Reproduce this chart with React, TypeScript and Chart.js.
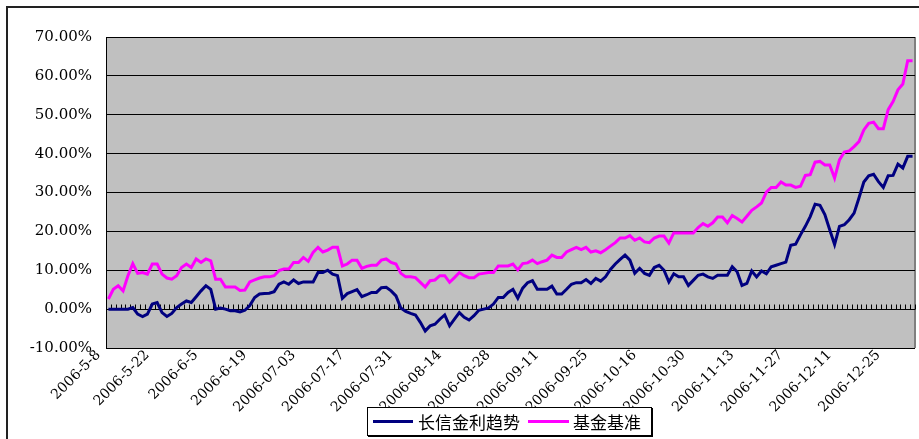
import { useEffect, useRef } from "react";
import { Chart, registerables } from "chart.js";

Chart.register(...registerables);

// one label every 10 trading days
const tickLabels = [
  "2006-5-8", "2006-5-22", "2006-6-5", "2006-6-19", "2006-07-03", "2006-07-17",
  "2006-07-31", "2006-08-14", "2006-08-28", "2006-09-11", "2006-09-25", "2006-10-16",
  "2006-10-30", "2006-11-13", "2006-11-27", "2006-12-11", "2006-12-25"
];
const labelStep = 10;

const seriesNames = ["长信金利趋势", "基金基准"];
const seriesColors = ["#000080", "#ff00ff"];

// 长信金利趋势, %
const fundReturn = [
  0, 0, 0, 0, 0, 0.4, -1.3, -1.9, -1.3, 1.3, 1.7, -0.9, -1.9, -1.1, 0.4, 1.3, 2.1, 1.7, 3.2, 4.7,
  6.0, 5.1, 0, 0.3, 0, -0.4, -0.4, -0.7, -0.3, 0.9, 3.0, 3.9, 4.0, 4.1, 4.5, 6.4, 7.0, 6.4, 7.5, 6.6,
  7.0, 7.0, 7.0, 9.4, 9.4, 10.0, 9.0, 8.6, 2.8, 4.0, 4.5, 5.0, 3.2, 3.7, 4.3, 4.3, 5.5, 5.6, 4.7, 3.4,
  0.3, -0.6, -1.1, -1.5, -3.4, -5.6, -4.3, -3.9, -2.6, -1.5, -4.3, -2.6, -0.9, -2.1, -2.8, -1.7, -0.3, 0, 0.3, 1.3,
  3.0, 3.0, 4.3, 5.1, 2.8, 5.4, 6.8, 7.3, 5.1, 5.1, 5.1, 5.9, 3.9, 3.9, 5.1, 6.4, 6.8, 6.8, 7.6, 6.6,
  7.9, 7.2, 8.3, 10.2, 11.6, 12.8, 13.9, 12.6, 9.2, 10.5, 9.2, 8.7, 10.7, 11.3, 10.0, 7.0, 9.1, 8.3, 8.3, 6.1,
  7.4, 8.7, 9.0, 8.3, 7.9, 8.7, 8.7, 8.7, 10.9, 9.6, 6.1, 6.6, 9.8, 8.3, 9.8, 9.1, 10.9, 11.3, 11.7, 12.1,
  16.4, 16.7, 19.1, 21.3, 23.8, 27.0, 26.7, 24.3, 20.4, 16.6, 21.3, 21.7, 23.0, 24.7, 28.6, 32.7, 34.3, 34.7, 32.8, 31.3,
  34.3, 34.4, 37.3, 36.3, 39.3, 39.3
];

// 基金基准, %
const benchmarkReturn = [
  2.6, 5.1, 6.0, 4.7, 8.6, 11.7, 9.2, 9.4, 9.0, 11.6, 11.6, 9.0, 8.0, 7.7, 8.6, 10.7, 11.6, 10.7, 12.9, 12.0,
  12.9, 12.4, 7.7, 7.7, 5.7, 5.7, 5.7, 4.8, 4.9, 7.0, 7.5, 8.0, 8.3, 8.3, 8.6, 9.9, 10.3, 10.3, 12.0, 12.0,
  13.3, 12.3, 14.6, 15.9, 14.7, 15.2, 15.9, 15.9, 11.1, 11.6, 12.6, 12.6, 10.5, 11.0, 11.3, 11.3, 12.6, 12.9, 12.0, 11.6,
  9.2, 8.3, 8.3, 8.1, 6.9, 5.7, 7.3, 7.5, 8.6, 8.6, 6.9, 8.1, 9.4, 8.6, 8.1, 8.1, 9.0, 9.2, 9.4, 9.4,
  11.1, 11.1, 11.1, 11.6, 10.1, 11.7, 11.9, 12.6, 11.7, 12.2, 12.6, 13.9, 13.3, 13.3, 14.7, 15.3, 15.9, 15.3, 15.9, 14.7,
  15.0, 14.5, 15.3, 16.2, 17.1, 18.3, 18.3, 18.9, 17.7, 18.3, 17.3, 17.1, 18.3, 18.8, 18.8, 17.0, 19.6, 19.6, 19.6, 19.6,
  19.6, 21.0, 22.0, 21.3, 22.2, 23.7, 23.7, 22.2, 24.1, 23.3, 22.4, 23.9, 25.4, 26.3, 27.3, 30.1, 31.3, 31.3, 32.7, 31.9,
  31.9, 31.3, 31.6, 34.4, 34.6, 37.8, 38.0, 37.1, 37.1, 33.7, 38.4, 40.4, 40.7, 41.8, 43.1, 46.1, 47.8, 48.1, 46.4, 46.4,
  51.3, 53.4, 56.4, 57.9, 63.9, 63.9
];

const categories = fundReturn.map((_, i) =>
  i % labelStep === 0 ? tickLabels[i / labelStep] ?? "" : ""
);

// grey plot area, grey right edge, and the small category ticks on the 0% line
const plotFrame = {
  id: "plotFrame",
  beforeDraw(chart: Chart) {
    const { ctx, chartArea: a } = chart;
    ctx.save();
    ctx.fillStyle = "#c0c0c0";
    ctx.fillRect(a.left, a.top, a.right - a.left, a.bottom - a.top);
    ctx.strokeStyle = "#808080";
    ctx.lineWidth = 2;
    ctx.beginPath();
    ctx.moveTo(a.right, a.top);
    ctx.lineTo(a.right, a.bottom);
    ctx.stroke();
    ctx.restore();
  },
  beforeDatasetsDraw(chart: Chart) {
    const { ctx } = chart;
    const x = chart.scales.x;
    const y = chart.scales.y;
    const zero = Math.round(y.getPixelForValue(0)) + 0.5;
    ctx.save();
    ctx.strokeStyle = "#000";
    ctx.lineWidth = 1;
    ctx.beginPath();
    for (let i = 0; i <= categories.length; i++) {
      const px = Math.round(x.getPixelForValue(i - 0.5)) + 0.5;
      ctx.moveTo(px, zero);
      ctx.lineTo(px, zero - 5);
    }
    ctx.stroke();
    ctx.restore();
  }
};

function ReturnChart() {
  const canvasRef = useRef<HTMLCanvasElement | null>(null);

  useEffect(() => {
    if (!canvasRef.current) {
      return undefined;
    }

    const chart = new Chart(canvasRef.current, {
      type: "line",
      data: {
        labels: categories,
        datasets: [
          {
            label: seriesNames[0],
            data: fundReturn,
            borderColor: seriesColors[0],
            borderWidth: 3,
            pointRadius: 0,
            tension: 0
          },
          {
            label: seriesNames[1],
            data: benchmarkReturn,
            borderColor: seriesColors[1],
            borderWidth: 3,
            pointRadius: 0,
            tension: 0
          }
        ]
      },
      options: {
        responsive: true,
        maintainAspectRatio: false,
        animation: false,
        layout: { padding: { top: 37, right: 4, left: 0, bottom: 0 } },
        plugins: {
          legend: { display: false },
          tooltip: { enabled: false }
        },
        scales: {
          x: {
            type: "category",
            offset: true,
            grid: { display: false },
            border: { display: false },
            ticks: {
              autoSkip: false,
              minRotation: 45,
              maxRotation: 45,
              padding: -9,
              labelOffset: -10,
              color: "#000",
              font: { family: "DejaVu Serif", size: 14 }
            },
            afterFit: (scale: any) => {
              scale.height = 91;
            }
          },
          y: {
            min: -10,
            max: 70,
            ticks: {
              stepSize: 10,
              padding: 14,
              color: "#000",
              font: { family: "DejaVu Serif", size: 15 },
              callback: (value) => `${Number(value).toFixed(2)}%`
            },
            grid: { color: "#000", lineWidth: 1, drawTicks: false },
            border: { color: "#000", width: 1 },
            afterFit: (scale: any) => {
              scale.width = 106;
            }
          }
        } as any
      },
      plugins: [plotFrame]
    });

    return () => chart.destroy();
  }, []);

  return <canvas ref={canvasRef} />;
}

function Legend() {
  return (
    <div
      style={{
        position: "absolute",
        left: 367,
        top: 407,
        width: 285,
        height: 29,
        boxSizing: "border-box",
        border: "1px solid #000",
        boxShadow: "1px 1px 0 #000",
        background: "#fff",
        display: "flex",
        alignItems: "center",
        fontFamily: '"Noto Sans CJK SC", sans-serif',
        fontSize: 17,
        color: "#000",
        whiteSpace: "nowrap"
      }}
    >
      <span style={{ width: 40, height: 3, background: seriesColors[0], marginLeft: 5 }} />
      <span style={{ marginLeft: 5 }}>{seriesNames[0]}</span>
      <span style={{ width: 41, height: 3, background: seriesColors[1], marginLeft: 8 }} />
      <span style={{ marginLeft: 4 }}>{seriesNames[1]}</span>
    </div>
  );
}

export default function App() {
  return (
    <div
      style={{
        position: "fixed",
        left: 0,
        top: 0,
        width: 919,
        height: 439,
        overflow: "hidden",
        background: "#fff"
      }}
    >
      <div
        style={{
          position: "absolute",
          left: 6,
          top: 6,
          width: 1000,
          height: 1000,
          boxSizing: "border-box",
          border: "2px solid #222"
        }}
      />
      <div style={{ position: "absolute", left: 0, top: 0, width: 919, height: 439 }}>
        <ReturnChart />
      </div>
      <Legend />
    </div>
  );
}
